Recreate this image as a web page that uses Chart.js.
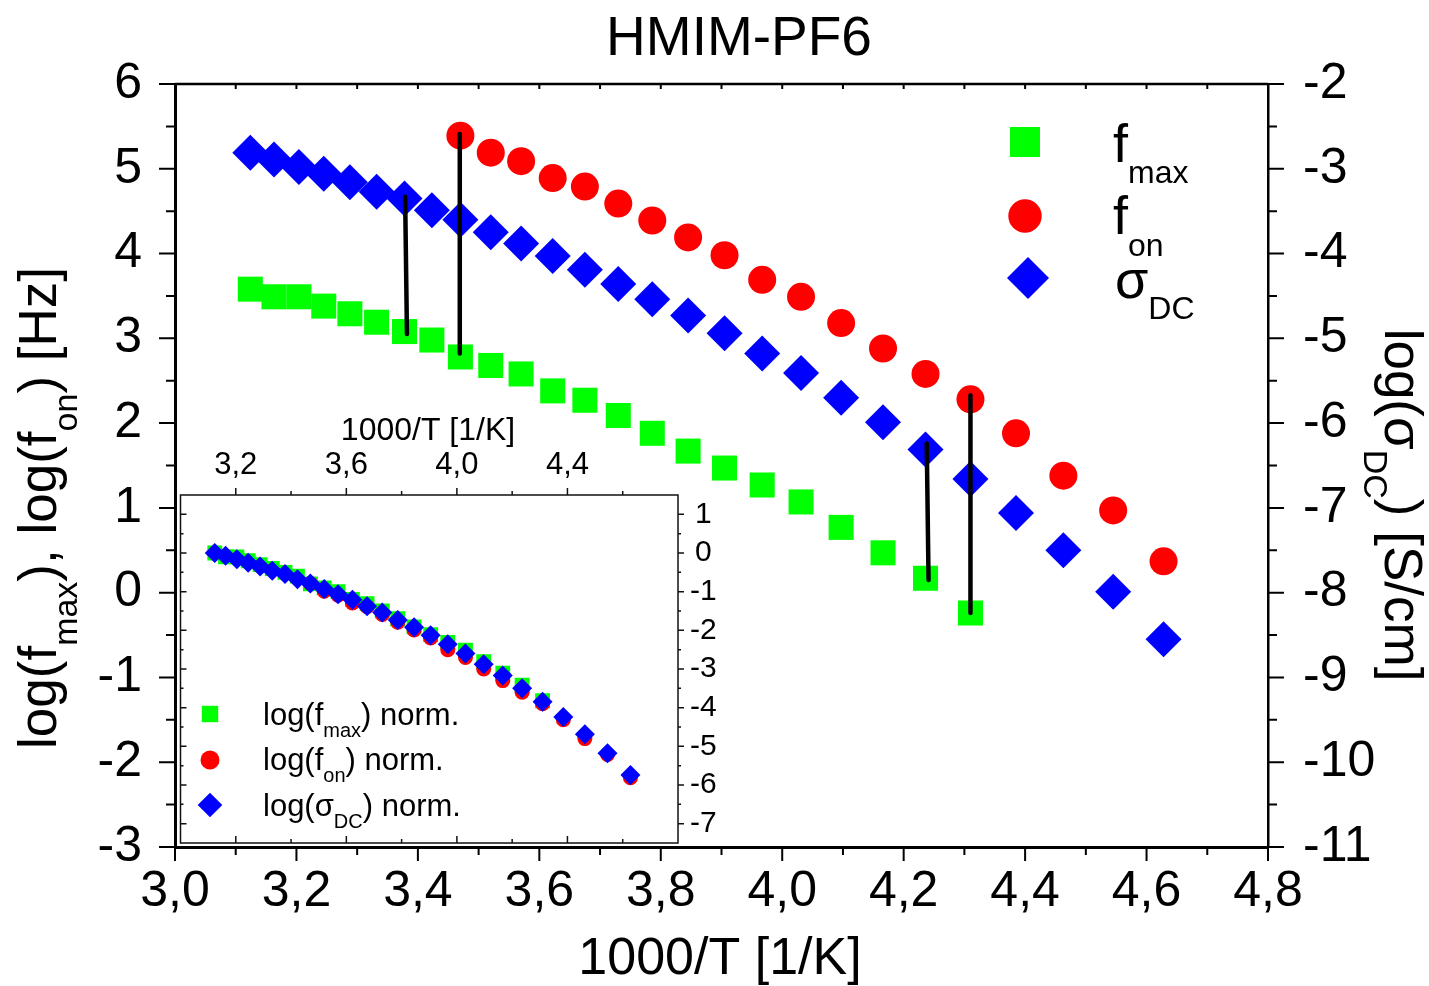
<!DOCTYPE html>
<html lang="en">
<head>
<meta charset="UTF-8">
<title>HMIM-PF6</title>
<script src="https://cdn.jsdelivr.net/npm/chart.js"></script>
<style>
  html, body { margin: 0; padding: 0; background: #fff; }
  #wrap { position: relative; width: 1429px; height: 986px; overflow: hidden; }
  #main { position: absolute; left: 0; top: 0; }
  #inset { position: absolute; left: 170px; top: 395px; }
</style>
</head>
<body>
<div id="wrap">
  <canvas id="main" width="1429" height="986"></canvas>
  <canvas id="inset" width="560" height="480"></canvas>
</div>
<script>
// 1000/T for every measured temperature [1/K]
const invT = [3.124, 3.163, 3.204, 3.245, 3.288, 3.332, 3.378, 3.423, 3.470, 3.520,
              3.570, 3.622, 3.675, 3.730, 3.786, 3.845, 3.905, 3.967, 4.031, 4.097,
              4.166, 4.236, 4.310, 4.385, 4.463, 4.545, 4.628];

// log(f_max) [Hz], first 23 temperatures
const logFmax = [3.58, 3.49, 3.49, 3.38, 3.29, 3.19, 3.08, 2.98, 2.78, 2.68, 2.58, 2.38,
                 2.27, 2.09, 1.88, 1.67, 1.47, 1.27, 1.07, 0.77, 0.47, 0.17, -0.24];
// log(f_on) [Hz], measured from invT[8] on
const fonStart = 8;
const logFon = [5.39, 5.19, 5.09, 4.89, 4.79, 4.59, 4.39, 4.19, 3.98, 3.69, 3.49, 3.18,
                2.88, 2.58, 2.28, 1.88, 1.38, 0.97, 0.37];
// log(sigma_DC) [S/cm], right axis
const logSigma = [-2.81, -2.89, -2.98, -3.06, -3.16, -3.27, -3.35, -3.49, -3.60, -3.75,
                  -3.88, -4.03, -4.19, -4.36, -4.54, -4.73, -4.94, -5.18, -5.41, -5.70,
                  -5.99, -6.31, -6.66, -7.06, -7.50, -7.99, -8.55];

// normalised curves (inset)
const normFmax = [0, -0.10, -0.10, -0.20, -0.30, -0.40, -0.50, -0.60, -0.80, -0.90, -1.00,
                  -1.20, -1.31, -1.50, -1.70, -1.91, -2.11, -2.31, -2.51, -2.81, -3.11,
                  -3.42, -3.82];
const normFon = [-0.79, -0.99, -1.09, -1.29, -1.39, -1.59, -1.79, -1.99, -2.20, -2.50,
                 -2.70, -3.00, -3.30, -3.60, -3.90, -4.31, -4.80, -5.21, -5.81];
const normSigma = [0, -0.07, -0.16, -0.25, -0.35, -0.46, -0.54, -0.68, -0.79, -0.93, -1.07,
                   -1.21, -1.38, -1.54, -1.73, -1.92, -2.13, -2.36, -2.60, -2.88, -3.17,
                   -3.50, -3.85, -4.24, -4.69, -5.18, -5.74];

// black connectors between curves, in left-axis units: [start, end]
const connX = [[3.379, 3.382], [3.469, 3.469], [4.238, 4.241], [4.310, 4.310]];
const connY = [[4.67, 3.05], [5.41, 2.82], [1.76, 0.15], [2.33, -0.24]];

const FONT = 'Arial, "Liberation Sans", sans-serif';
const GREEN = '#00ff00', RED = '#ff0000', BLUE = '#0000ff';
Chart.defaults.font.family = FONT;
Chart.defaults.color = '#000';

const pts = (xs, ys, offset = 0) => ys.map((y, i) => ({ x: xs[i + offset], y }));
const comma = v => v.toFixed(1).replace('.', ',');

function runWidth(ctx, parts, size, subSize) {
  let w = 0;
  for (const [t, sub] of parts) {
    ctx.font = `${sub ? subSize : size}px ${FONT}`;
    w += ctx.measureText(t).width;
  }
  return w;
}

function drawRun(ctx, parts, x, y, size, subSize, drop) {
  for (const [t, sub] of parts) {
    ctx.font = `${sub ? subSize : size}px ${FONT}`;
    ctx.fillText(t, x, sub ? y + drop : y);
    x += ctx.measureText(t).width;
  }
}

function marker(ctx, kind, x, y, s, color) {
  ctx.fillStyle = color;
  ctx.beginPath();
  if (kind === 'rect') ctx.rect(x - s, y - s, 2 * s, 2 * s);
  else if (kind === 'circle') ctx.arc(x, y, s, 0, Math.PI * 2);
  else {
    ctx.moveTo(x, y - s); ctx.lineTo(x + s, y);
    ctx.lineTo(x, y + s); ctx.lineTo(x - s, y);
    ctx.closePath();
  }
  ctx.fill();
}

// frame, minor ticks, titles and legend of the main plot
const mainDecor = {
  id: 'mainDecor',
  afterDraw(chart) {
    const { ctx, chartArea: a, scales } = chart;
    const xs = scales.x, yl = scales.y, yr = scales.y2;
    ctx.save();
    ctx.strokeStyle = '#000';
    ctx.lineWidth = 2.5;
    ctx.beginPath();
    ctx.moveTo(a.left, a.top); ctx.lineTo(a.right, a.top);
    ctx.stroke();

    ctx.lineWidth = 2;
    ctx.beginPath();
    for (let i = 0; i <= 18; i++) {
      const px = xs.getPixelForValue(3 + i * 0.1);
      const len = i % 2 === 0 ? 14 : 8;
      ctx.moveTo(px, a.bottom); ctx.lineTo(px, a.bottom + len);
      ctx.moveTo(px, a.top); ctx.lineTo(px, a.top + 5);
    }
    for (let i = 0; i <= 18; i++) {
      const pl = yl.getPixelForValue(-3 + i * 0.5);
      const pr = yr.getPixelForValue(-11 + i * 0.5);
      const len = i % 2 === 0 ? 16 : 9;
      ctx.moveTo(a.left, pl); ctx.lineTo(a.left - len, pl);
      ctx.moveTo(a.right, pr); ctx.lineTo(a.right + len, pr);
    }
    ctx.stroke();

    ctx.fillStyle = '#000';
    ctx.textBaseline = 'alphabetic';
    ctx.textAlign = 'center';
    ctx.font = `55px ${FONT}`;
    ctx.fillText('HMIM-PF6', 739, 55);
    ctx.font = `52px ${FONT}`;
    ctx.fillText('1000/T [1/K]', 720, 974);

    ctx.textAlign = 'left';
    const leftTitle = [['log(f', 0], ['max', 1], ['), log(f', 0], ['on', 1], [') [Hz]', 0]];
    let w = runWidth(ctx, leftTitle, 53, 34);
    ctx.save();
    ctx.translate(56, 508);
    ctx.rotate(-Math.PI / 2);
    drawRun(ctx, leftTitle, -w / 2, 0, 53, 34, 21);
    ctx.restore();

    const rightTitle = [['log(σ', 0], ['DC', 1], [') [S/cm]', 0]];
    w = runWidth(ctx, rightTitle, 53, 34);
    ctx.save();
    ctx.translate(1385, 505);
    ctx.rotate(Math.PI / 2);
    drawRun(ctx, rightTitle, -w / 2, 0, 53, 34, 21);
    ctx.restore();

    // legend
    marker(ctx, 'rect', 1025, 142, 15, GREEN);
    marker(ctx, 'circle', 1025, 216, 16.7, RED);
    marker(ctx, 'diamond', 1028, 278, 21, BLUE);
    ctx.fillStyle = '#000';
    drawRun(ctx, [['f', 0], ['max', 1]], 1113, 162, 54, 32, 21);
    drawRun(ctx, [['f', 0], ['on', 1]], 1113, 234, 54, 32, 22);
    drawRun(ctx, [['σ', 0], ['DC', 1]], 1115, 298, 54, 32, 21);
    ctx.restore();
  }
};

const connectors = connX.map((xPair, i) => ({
  data: [{ x: xPair[0], y: connY[i][0] }, { x: xPair[1], y: connY[i][1] }],
  showLine: true,
  borderColor: '#000',
  borderWidth: 4.5,
  borderCapStyle: 'round',
  pointRadius: 0,
  yAxisID: 'y',
  order: 0
}));

new Chart(document.getElementById('main'), {
  type: 'scatter',
  data: {
    datasets: [
      ...connectors,
      { label: 'sigma', data: pts(invT, logSigma), yAxisID: 'y2', pointStyle: 'rectRot',
        pointRadius: 18, backgroundColor: BLUE, borderColor: BLUE, pointBorderWidth: 0, order: 1 },
      { label: 'f_on', data: pts(invT, logFon, fonStart), yAxisID: 'y', pointStyle: 'circle',
        pointRadius: 14, backgroundColor: RED, borderColor: RED, pointBorderWidth: 0, order: 2 },
      { label: 'f_max', data: pts(invT, logFmax), yAxisID: 'y', pointStyle: 'rect',
        pointRadius: 17.7, backgroundColor: GREEN, borderColor: GREEN, pointBorderWidth: 0, order: 3 }
    ]
  },
  options: {
    responsive: false,
    animation: false,
    events: [],
    layout: { padding: { top: 84, left: 0, right: 0, bottom: 0 } },
    plugins: { legend: { display: false }, tooltip: { enabled: false }, title: { display: false } },
    scales: {
      x: {
        type: 'linear', position: 'bottom', min: 3, max: 4.8,
        grid: { display: false },
        border: { display: true, color: '#000', width: 3 },
        ticks: { stepSize: 0.2, autoSkip: false, maxRotation: 0, padding: 7,
                 font: { size: 50 }, color: '#000', callback: v => comma(v) },
        afterFit: s => { s.height = 139; }
      },
      y: {
        type: 'linear', position: 'left', min: -3, max: 6,
        grid: { display: false },
        border: { display: true, color: '#000', width: 3 },
        ticks: { stepSize: 1, padding: 25, font: { size: 50 }, color: '#000' },
        afterFit: s => { s.width = 175; }
      },
      y2: {
        type: 'linear', position: 'right', min: -11, max: -2,
        grid: { display: false },
        border: { display: true, color: '#000', width: 2.5 },
        ticks: { stepSize: 1, padding: 27, font: { size: 50 }, color: '#000' },
        afterFit: s => { s.width = 161; }
      }
    }
  },
  plugins: [mainDecor]
});

// inset: white box, frame, ticks, axis title and legend
const insetDecor = {
  id: 'insetDecor',
  beforeDraw(chart) {
    const { ctx, chartArea: a } = chart;
    ctx.save();
    ctx.fillStyle = '#fff';
    ctx.fillRect(a.left, a.top, a.right - a.left, a.bottom - a.top);
    ctx.restore();
  },
  afterDraw(chart) {
    const { ctx, chartArea: a, scales } = chart;
    const xs = scales.x, ys = scales.y;
    ctx.save();
    ctx.strokeStyle = '#111';
    ctx.lineWidth = 1.5;
    ctx.strokeRect(a.left, a.top, a.right - a.left, a.bottom - a.top);
    ctx.beginPath();
    for (let i = 1; i < 9; i++) {
      const px = xs.getPixelForValue(3 + i * 0.2);
      const len = i % 2 === 1 ? 7 : 4;
      ctx.moveTo(px, a.top); ctx.lineTo(px, a.top - len);
      ctx.moveTo(px, a.bottom); ctx.lineTo(px, a.bottom - len);
    }
    for (let i = 1; i < 18; i++) {
      const v = -7.5 + i * 0.5;
      const py = ys.getPixelForValue(v);
      const len = Number.isInteger(v) ? 6 : 3;
      ctx.moveTo(a.right, py); ctx.lineTo(a.right + len, py);
      ctx.moveTo(a.left, py); ctx.lineTo(a.left + len, py);
    }
    ctx.stroke();

    ctx.fillStyle = '#000';
    ctx.textAlign = 'center';
    ctx.textBaseline = 'alphabetic';
    ctx.font = `32px ${FONT}`;
    ctx.fillText('1000/T [1/K]', 258, 45);

    ctx.textAlign = 'left';
    marker(ctx, 'rect', 40, 319, 8.2, GREEN);
    marker(ctx, 'circle', 40, 365, 9.5, RED);
    marker(ctx, 'diamond', 40, 410, 12.3, BLUE);
    ctx.fillStyle = '#000';
    drawRun(ctx, [['log(f', 0], ['max', 1], [') norm.', 0]], 93, 330, 31, 20, 12);
    drawRun(ctx, [['log(f', 0], ['on', 1], [') norm.', 0]], 93, 375, 31, 20, 12);
    drawRun(ctx, [['log(σ', 0], ['DC', 1], [') norm.', 0]], 93, 421, 31, 20, 12);
    ctx.restore();
  }
};

new Chart(document.getElementById('inset'), {
  type: 'scatter',
  data: {
    datasets: [
      { label: 'sigma norm', data: pts(invT, normSigma), pointStyle: 'rectRot',
        pointRadius: 10, backgroundColor: BLUE, borderColor: BLUE, pointBorderWidth: 0, order: 0 },
      { label: 'f_on norm', data: pts(invT, normFon, fonStart), pointStyle: 'circle',
        pointRadius: 7.5, backgroundColor: RED, borderColor: RED, pointBorderWidth: 0, order: 1 },
      { label: 'f_max norm', data: pts(invT, normFmax), pointStyle: 'rect',
        pointRadius: 10.5, backgroundColor: GREEN, borderColor: GREEN, pointBorderWidth: 0, order: 2 }
    ]
  },
  options: {
    responsive: false,
    animation: false,
    events: [],
    layout: { padding: { top: 0, left: 10, right: 0, bottom: 32 } },
    plugins: { legend: { display: false }, tooltip: { enabled: false } },
    scales: {
      x: {
        type: 'linear', position: 'top', min: 3, max: 4.8,
        grid: { display: false },
        border: { display: false },
        ticks: {
          stepSize: 0.2, autoSkip: false, maxRotation: 0, padding: 3,
          font: { size: 31 }, color: '#000',
          callback: v => [32, 36, 40, 44].includes(Math.round(v * 10)) ? comma(v) : ''
        },
        afterFit: s => { s.height = 100; }
      },
      y: {
        type: 'linear', position: 'right', min: -7.5, max: 1.5,
        grid: { display: false },
        border: { display: false },
        ticks: { stepSize: 0.5, autoSkip: false, crossAlign: 'center', padding: 4,
                 font: { size: 30 }, color: '#000',
                 callback: v => Number.isInteger(v) ? String(v) : '' },
        afterFit: s => { s.width = 52; }
      }
    }
  },
  plugins: [insetDecor]
});
</script>
</body>
</html>
